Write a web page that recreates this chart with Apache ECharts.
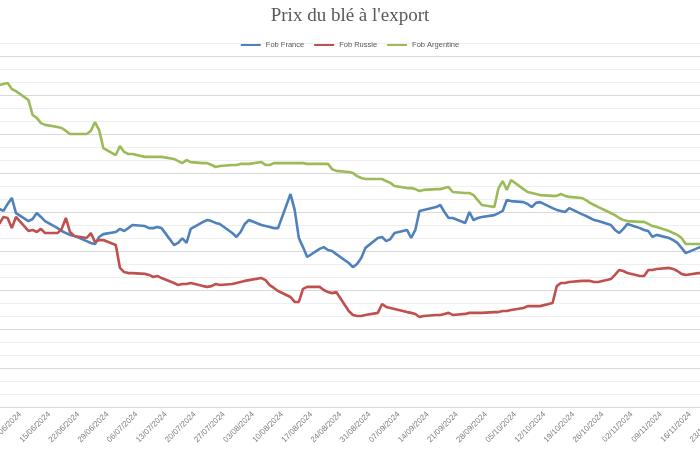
<!DOCTYPE html>
<html>
<head>
<meta charset="utf-8">
<title>Prix du blé à l'export</title>
<script src="https://cdn.jsdelivr.net/npm/echarts@6/dist/echarts.min.js"></script>
<style>
  html, body { margin: 0; padding: 0; background: #fff; }
  #chart { width: 700px; height: 450px; }
</style>
</head>
<body>
<div id="chart"></div>
<script>
// jours de cotation
const dates = [
  '03/06/2024','04/06/2024','05/06/2024','06/06/2024','07/06/2024',
  '10/06/2024','11/06/2024','12/06/2024','13/06/2024','14/06/2024',
  '17/06/2024','18/06/2024','19/06/2024','20/06/2024','21/06/2024',
  '24/06/2024','25/06/2024','26/06/2024','27/06/2024','28/06/2024',
  '01/07/2024','02/07/2024','03/07/2024','04/07/2024','05/07/2024',
  '08/07/2024','09/07/2024','10/07/2024','11/07/2024','12/07/2024',
  '15/07/2024','16/07/2024','17/07/2024','18/07/2024','19/07/2024',
  '22/07/2024','23/07/2024','24/07/2024','25/07/2024','26/07/2024',
  '29/07/2024','30/07/2024','31/07/2024','01/08/2024','02/08/2024',
  '05/08/2024','06/08/2024','07/08/2024','08/08/2024','09/08/2024',
  '12/08/2024','13/08/2024','14/08/2024','15/08/2024','16/08/2024',
  '19/08/2024','20/08/2024','21/08/2024','22/08/2024','23/08/2024',
  '26/08/2024','27/08/2024','28/08/2024','29/08/2024','30/08/2024',
  '02/09/2024','03/09/2024','04/09/2024','05/09/2024','06/09/2024',
  '09/09/2024','10/09/2024','11/09/2024','12/09/2024','13/09/2024',
  '16/09/2024','17/09/2024','18/09/2024','19/09/2024','20/09/2024',
  '23/09/2024','24/09/2024','25/09/2024','26/09/2024','27/09/2024',
  '30/09/2024','01/10/2024','02/10/2024','03/10/2024','04/10/2024',
  '07/10/2024','08/10/2024','09/10/2024','10/10/2024','11/10/2024',
  '14/10/2024','15/10/2024','16/10/2024','17/10/2024','18/10/2024',
  '21/10/2024','22/10/2024','23/10/2024','24/10/2024','25/10/2024',
  '28/10/2024','29/10/2024','30/10/2024','31/10/2024','01/11/2024',
  '04/11/2024','05/11/2024','06/11/2024','07/11/2024','08/11/2024',
  '11/11/2024','12/11/2024','13/11/2024','14/11/2024','15/11/2024',
  '18/11/2024','19/11/2024'
];

const fobFrance = [
  256.2, 255.4, 258.1, 260.4, 254.6,
  251.5, 252.3, 254.6, 253.1, 251.5,
  248.8, 247.7, 246.9, 246.2, 245.8,
  243.8, 243.1, 242.7, 245.4, 246.5,
  247.3, 248.5, 247.7, 248.8, 250.0,
  249.6, 248.8, 248.8, 249.2, 248.8,
  242.3, 243.1, 244.9, 243.1, 248.5,
  251.2, 251.9, 251.5, 250.8, 250.4,
  246.9, 245.4, 247.3, 250.4, 251.9,
  250.0, 249.6, 249.2, 248.8, 248.8,
  261.9, 255.8, 245.0, 241.5, 237.7,
  240.8, 241.5, 240.4, 240.0, 238.8,
  235.4, 233.8, 235.0, 237.3, 241.2,
  245.0, 245.4, 243.8, 244.6, 246.9,
  248.1, 245.0, 248.1, 255.4, 255.8,
  256.9, 257.7, 255.0, 252.7, 252.7,
  250.8, 255.0, 251.9, 252.7, 253.1,
  253.8, 254.6, 255.4, 259.6, 259.2,
  258.8, 258.1, 256.9, 258.5, 258.8,
  256.5, 255.8, 255.4, 255.0, 256.5,
  254.2, 253.5, 252.7, 251.9, 251.5,
  250.0, 248.1, 246.9, 248.5, 250.4,
  248.8, 248.1, 247.7, 245.4, 246.2,
  245.0, 244.2, 243.1, 241.2, 239.2,
  241.2, 241.9
];

const fobRussie = [
  250.4, 253.1, 252.7, 248.8, 253.1,
  247.7, 248.1, 247.3, 248.5, 246.9,
  246.9, 248.5, 252.7, 247.3, 245.8,
  245.0, 246.9, 243.5, 244.2, 244.2,
  242.3, 233.5, 231.9, 231.5, 231.5,
  231.2, 230.8, 230.0, 230.4, 229.6,
  227.7, 226.9, 227.3, 227.3, 227.7,
  226.5, 226.2, 226.5, 227.3, 226.9,
  227.3, 227.7, 228.1, 228.5, 228.8,
  229.6, 228.8, 226.9, 225.8, 224.6,
  222.3, 220.4, 220.4, 225.4, 226.2,
  226.2, 225.0, 224.2, 223.8, 224.2,
  216.9, 215.4, 215.0, 215.0, 215.4,
  216.2, 219.6, 218.5, 218.1, 217.7,
  216.5, 216.2, 215.8, 214.6, 215.0,
  215.4, 215.4, 215.8, 216.2, 215.4,
  215.8, 216.2, 216.2, 216.2, 216.2,
  216.5, 216.5, 216.9, 216.9, 217.3,
  218.1, 218.8, 218.8, 218.8, 218.8,
  220.0, 226.5, 227.7, 227.7, 228.1,
  228.5, 228.5, 228.5, 228.1, 228.1,
  229.2, 230.8, 232.7, 232.3, 231.5,
  230.4, 230.4, 232.7, 232.7, 233.1,
  233.5, 233.1, 232.3, 231.2, 230.8,
  231.5, 231.5
];

const fobArgentine = [
  303.8, 304.2, 304.6, 302.3, 301.5,
  298.1, 292.3, 291.2, 289.2, 288.5,
  287.7, 287.3, 286.2, 285.0, 285.0,
  285.0, 286.2, 289.6, 286.5, 279.6,
  276.9, 280.4, 278.1, 277.3, 277.3,
  276.2, 276.2, 276.2, 276.2, 276.2,
  275.4, 274.6, 273.8, 275.0, 274.2,
  273.8, 273.8, 273.1, 272.3, 272.7,
  273.1, 273.1, 273.5, 273.5, 273.5,
  274.2, 273.1, 273.1, 273.8, 273.8,
  273.8, 273.8, 273.8, 273.8, 273.5,
  273.5, 273.5, 273.5, 271.5, 270.8,
  270.4, 270.0, 268.8, 268.1, 267.7,
  267.7, 267.7, 266.9, 266.2, 265.0,
  264.2, 264.2, 263.8, 263.1, 263.5,
  263.8, 263.8, 264.2, 264.6, 262.7,
  262.3, 262.3, 261.5, 259.6, 257.7,
  256.9, 264.2, 266.9, 263.5, 267.3,
  263.8, 262.7, 262.3, 261.9, 261.5,
  261.2, 261.2, 261.9, 261.2, 260.8,
  260.4, 259.6, 258.5, 257.7, 256.9,
  254.6, 253.8, 252.7, 251.9, 251.5,
  251.2, 251.2, 250.4, 249.6, 249.2,
  247.7, 246.9, 246.2, 245.0, 242.7,
  242.7, 242.7
];

const seriesNames = ['Fob France', 'Fob Russie', 'Fob Argentine'];
const seriesColors = ['#4f81bd', '#c0504d', '#9bbb59'];

// axe des dates : jours comptés depuis le 01/06/2024, un repère par semaine
const axisOrigin = Date.UTC(2024, 5, 1);
const DAY = 86400000;
const axisDays = 175;

function dayIndex(s) {
  const p = s.split('/');
  return (Date.UTC(+p[2], +p[1] - 1, +p[0]) - axisOrigin) / DAY;
}
function pad(n) { return n < 10 ? '0' + n : '' + n; }
function dayLabel(v) {
  const d = new Date(axisOrigin + v * DAY);
  return pad(d.getUTCDate()) + '/' + pad(d.getUTCMonth() + 1) + '/' + d.getUTCFullYear();
}

const chart = echarts.init(document.getElementById('chart'));

const allValues = [fobFrance, fobRussie, fobArgentine];
const series = seriesNames.map(function (name, k) {
  return {
    name: name,
    type: 'line',
    symbol: 'none',
    smooth: false,
    lineStyle: { width: 2.6, color: seriesColors[k] },
    itemStyle: { color: seriesColors[k] },
    data: dates.map(function (d, i) { return [dayIndex(d), allValues[k][i]]; })
  };
});

chart.setOption({
  animation: false,
  title: {
    text: "Prix du blé à l'export",
    left: 'center',
    top: 2,
    textStyle: {
      fontFamily: 'Liberation Serif',
      fontSize: 19,
      fontWeight: 'normal',
      color: '#595959'
    }
  },
  legend: {
    data: seriesNames,
    top: 36,
    left: 'center',
    icon: 'rect',
    itemWidth: 20,
    itemHeight: 2,
    itemGap: 10,
    textStyle: { fontSize: 7.5, color: '#595959', fontFamily: 'Liberation Sans' }
  },
  grid: {
    left: -9,
    right: -19,
    top: 43,
    bottom: 43,
    containLabel: false,
    outerBoundsMode: 'none'
  },
  xAxis: {
    type: 'value',
    min: 0,
    max: axisDays,
    interval: 7,
    axisLine: { lineStyle: { color: '#d9d9d9' } },
    axisTick: { show: false },
    splitLine: { show: false },
    axisLabel: {
      rotate: 45,
      fontSize: 8,
      color: '#7f7f7f',
      margin: 6,
      showMinLabel: true,
      showMaxLabel: true,
      formatter: dayLabel
    }
  },
  yAxis: {
    type: 'value',
    min: 180,
    max: 320,
    interval: 5,
    axisLabel: { show: false },
    axisLine: { show: false },
    axisTick: { show: false },
    splitLine: {
      lineStyle: { color: ['#d9d9d9', '#efefef', '#efefef'], width: 1 }
    }
  },
  series: series
});
</script>
</body>
</html>
